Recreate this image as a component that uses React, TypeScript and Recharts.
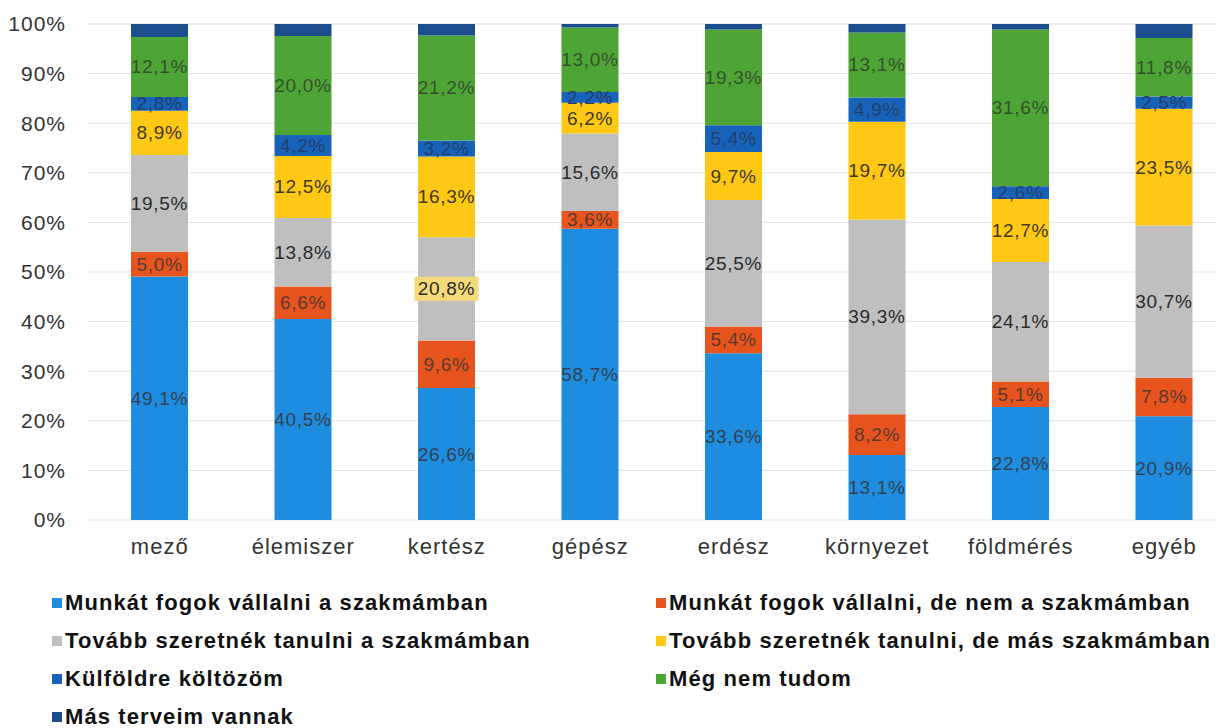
import React from 'react';
import {
  BarChart,
  Bar,
  XAxis,
  YAxis,
  CartesianGrid,
  Legend,
  LabelList
} from 'recharts';

const categories = ['mező', 'élemiszer', 'kertész', 'gépész', 'erdész', 'környezet', 'földmérés', 'egyéb'];

const munkaSzakma = [49.1, 40.5, 26.6, 58.7, 33.6, 13.1, 22.8, 20.9];
const munkaMas = [5.0, 6.6, 9.6, 3.6, 5.4, 8.2, 5.1, 7.8];
const tanulSzakma = [19.5, 13.8, 20.8, 15.6, 25.5, 39.3, 24.1, 30.7];
const tanulMas = [8.9, 12.5, 16.3, 6.2, 9.7, 19.7, 12.7, 23.5];
const kulfold = [2.8, 4.2, 3.2, 2.2, 5.4, 4.9, 2.6, 2.5];
const nemTudom = [12.1, 20.0, 21.2, 13.0, 19.3, 13.1, 31.6, 11.8];
const masTerv = [2.6, 2.4, 2.3, 0.7, 1.1, 1.7, 1.1, 2.8];

const yTicks = [0, 10, 20, 30, 40, 50, 60, 70, 80, 90, 100];

const series = [
  { key: 'munkaSzakma', name: 'Munkát fogok vállalni a szakmámban', color: '#1F8DDF', values: munkaSzakma, label: '#34404e' },
  { key: 'munkaMas', name: 'Munkát fogok vállalni, de nem a szakmámban', color: '#E8541E', values: munkaMas, label: '#5a3a30' },
  { key: 'tanulSzakma', name: 'Tovább szeretnék tanulni a szakmámban', color: '#BFBFBF', values: tanulSzakma, label: '#2b2b2b' },
  { key: 'tanulMas', name: 'Tovább szeretnék tanulni, de más szakmámban', color: '#FFC814', values: tanulMas, label: '#403a2a' },
  { key: 'kulfold', name: 'Külföldre költözöm', color: '#1863BA', values: kulfold, label: '#233e6a' },
  { key: 'nemTudom', name: 'Még nem tudom', color: '#4EA535', values: nemTudom, label: '#36502e' },
  { key: 'masTerv', name: 'Más terveim vannak', color: '#1C4E8E', values: masTerv, label: '' }
];

const highlighted = 'kertész';
const font = 'Liberation Sans, Arial, sans-serif';

const data = categories.map((name, i) => {
  const row: any = { name };
  series.forEach(s => { row[s.key] = s.values[i]; });
  return row;
});

const fmt = (v: number) => v.toFixed(1).replace('.', ',') + '%';

const makeLabel = (color: string, highlight: boolean) => (props: any) => {
  const { x, y, width, height, value, index } = props;
  const cx = x + width / 2;
  const cy = y + height / 2;
  const showBox = highlight && categories[index] === highlighted;
  return (
    <g>
      {showBox && (
        <rect x={cx - 32} y={cy - 12} width={64} height={24} fill="#F5DA7A" />
      )}
      <text
        x={cx}
        y={cy}
        textAnchor="middle"
        dominantBaseline="central"
        fontSize={19}
        letterSpacing={0.7}
        fontFamily={font}
        fill={color}
      >
        {fmt(value)}
      </text>
    </g>
  );
};

const LegendBox = () => (
  <div
    style={{
      height: 164,
      boxSizing: 'border-box',
      paddingTop: 20,
      paddingLeft: 52,
      display: 'grid',
      gridTemplateColumns: '604px 620px',
      gridAutoRows: '38px',
      fontFamily: font,
      fontWeight: 'bold',
      fontSize: 22,
      letterSpacing: 1.1,
      color: '#111'
    }}
  >
    {series.map(s => (
      <div key={s.key} style={{ display: 'flex', alignItems: 'center', whiteSpace: 'nowrap' }}>
        <span style={{ display: 'inline-block', width: 10, height: 10, background: s.color, marginRight: 3 }} />
        {s.name}
      </div>
    ))}
  </div>
);

const App: React.FC = () => {
  return (
    <div style={{ position: 'fixed', left: 0, top: 0, width: 1216, height: 728, overflow: 'hidden', background: '#fff' }}>
      <BarChart
        width={1236}
        height={728}
        data={data}
        margin={{ top: 24, right: 0, bottom: 0, left: 0 }}
      >
        <CartesianGrid vertical={false} stroke="#E3E3E3" />
        <XAxis
          dataKey="name"
          axisLine={false}
          tickLine={false}
          height={44}
          tick={{ fontSize: 22, fill: '#333', fontFamily: font, letterSpacing: 1 }}
          tickMargin={12}
        />
        <YAxis
          width={88}
          domain={[0, 100]}
          ticks={yTicks}
          axisLine={false}
          tickLine={false}
          tickFormatter={(v: number) => `${v}%`}
          tick={{ fontSize: 21, fill: '#333', fontFamily: font, letterSpacing: 1, dx: -14 }}
        />
        <Legend verticalAlign="bottom" content={<LegendBox />} wrapperStyle={{ left: 0, width: 1236 }} />
        {series.map(s => (
          <Bar
            key={s.key}
            dataKey={s.key}
            name={s.name}
            stackId="a"
            fill={s.color}
            barSize={57}
            isAnimationActive={false}
          >
            {s.label && (
              <LabelList dataKey={s.key} content={makeLabel(s.label, s.key === 'tanulSzakma')} />
            )}
          </Bar>
        ))}
      </BarChart>
    </div>
  );
};

export default App;
